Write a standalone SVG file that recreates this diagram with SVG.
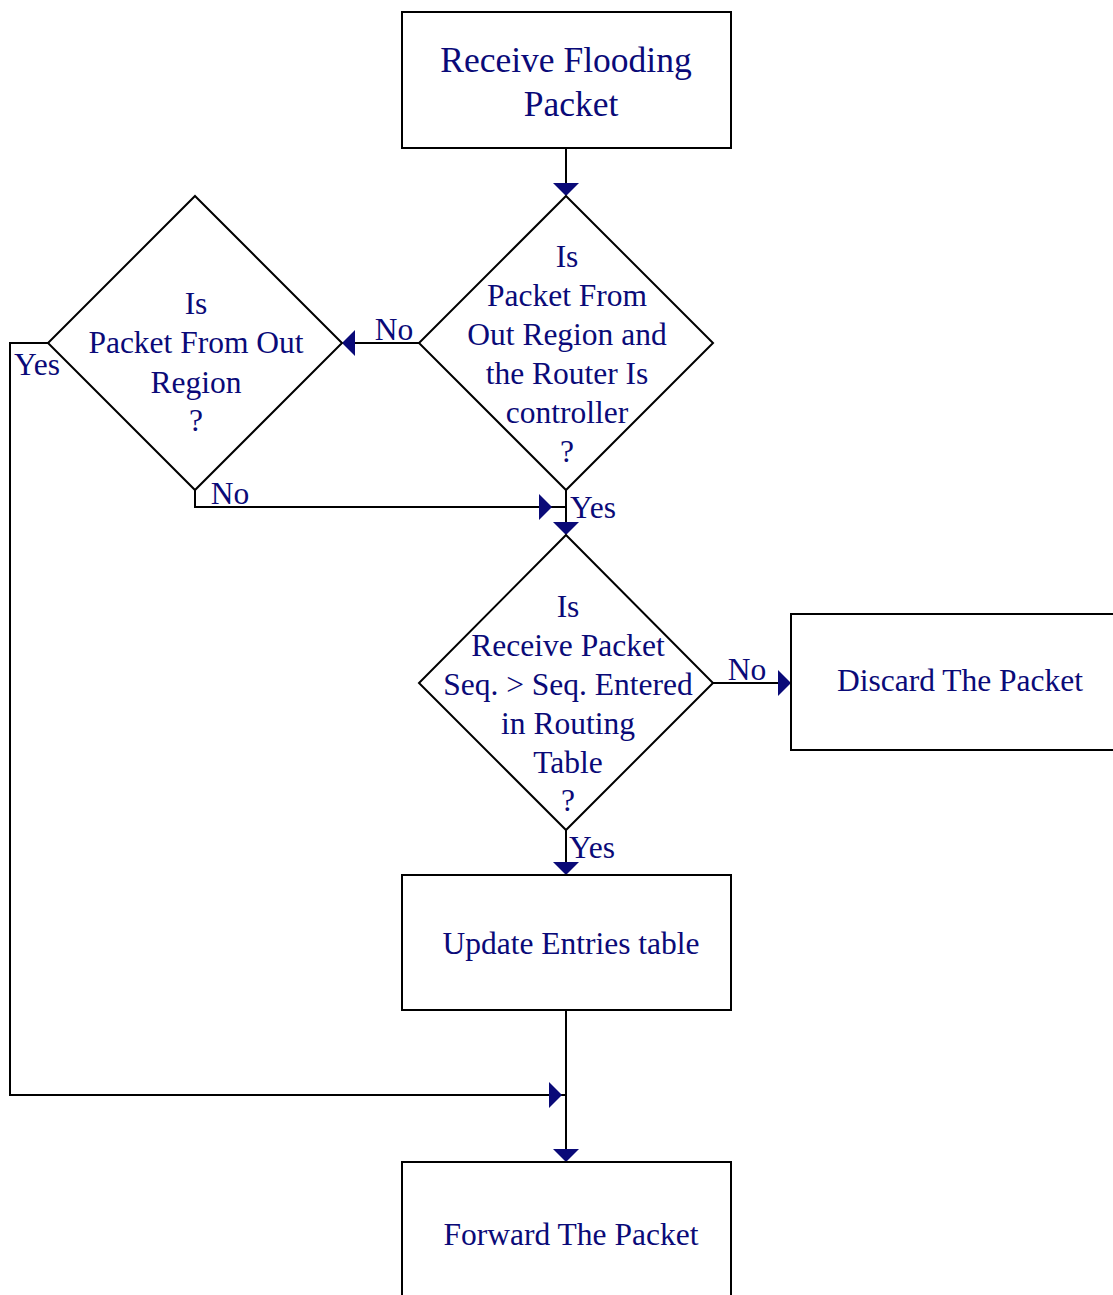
<svg xmlns="http://www.w3.org/2000/svg" width="1113" height="1295" viewBox="0 0 1113 1295">
<style>
.s{fill:#fff;stroke:#000;stroke-width:2}
.t{font-family:"Liberation Serif","Times New Roman",serif;font-size:31.5px;fill:#0a0a78;text-anchor:middle}
.b{font-size:35.5px}
.l{fill:none;stroke:#000;stroke-width:2}
.a{fill:#0a0a78}
</style>
<rect width="1113" height="1295" fill="#fff"/>
<g id="connectors">
<path class="l" d="M566 148V184"/>
<path class="a" d="M553 183h26l-13 13z"/>
<path class="l" d="M419 343H354"/>
<path class="a" d="M355 330v26l-13-13z"/>
<path class="l" d="M195 490V507H566"/>
<path class="a" d="M539 494v26l13-13z"/>
<path class="l" d="M566 490V524"/>
<path class="a" d="M553 522h26l-13 13z"/>
<path class="l" d="M713 683H780"/>
<path class="a" d="M778 670v26l13-13z"/>
<path class="l" d="M566 830V864"/>
<path class="a" d="M553 862h26l-13 13z"/>
<path class="l" d="M566 1010V1150"/>
<path class="a" d="M553 1149h26l-13 13z"/>
<path class="l" d="M48 343H10V1095H566"/>
<path class="a" d="M549 1082v26l13-13z"/>
<text class="t" x="394" y="340">No</text>
<text class="t" x="230" y="504">No</text>
<text class="t" x="593" y="518">Yes</text>
<text class="t" x="37" y="375">Yes</text>
<text class="t" x="747" y="680">No</text>
<text class="t" x="592" y="858">Yes</text>
</g>
<g id="receive">
<rect class="s" x="402" y="12" width="329" height="136"/>
<text class="t b" x="566" y="72">Receive Flooding</text>
<text class="t b" x="571" y="116">Packet</text>
</g>
<g id="d1">
<path class="s" d="M566 196L713 343L566 490L419 343Z"/>
<text class="t" x="567" y="267">Is</text>
<text class="t" x="567" y="306">Packet From</text>
<text class="t" x="567" y="345">Out Region and</text>
<text class="t" x="567" y="384">the Router Is</text>
<text class="t" x="567" y="423">controller</text>
<text class="t" x="567" y="462">?</text>
</g>
<g id="d2">
<path class="s" d="M195 196L342 343L195 490L48 343Z"/>
<text class="t" x="196" y="314">Is</text>
<text class="t" x="196" y="353">Packet From Out</text>
<text class="t" x="196" y="393">Region</text>
<text class="t" x="196" y="431">?</text>
</g>
<g id="d3">
<path class="s" d="M566 535L713 683L566 830L419 683Z"/>
<text class="t" x="568" y="617">Is</text>
<text class="t" x="568" y="656">Receive Packet</text>
<text class="t" x="568" y="695">Seq. &gt; Seq. Entered</text>
<text class="t" x="568" y="734">in Routing</text>
<text class="t" x="568" y="773">Table</text>
<text class="t" x="568" y="811">?</text>
</g>
<g id="discard">
<rect class="s" x="791" y="614" width="330" height="136"/>
<text class="t" x="960" y="691">Discard The Packet</text>
</g>
<g id="update">
<rect class="s" x="402" y="875" width="329" height="135"/>
<text class="t" x="571" y="954">Update Entries table</text>
</g>
<g id="forward">
<rect class="s" x="402" y="1162" width="329" height="140"/>
<text class="t" x="571" y="1245">Forward The Packet</text>
</g>
</svg>
